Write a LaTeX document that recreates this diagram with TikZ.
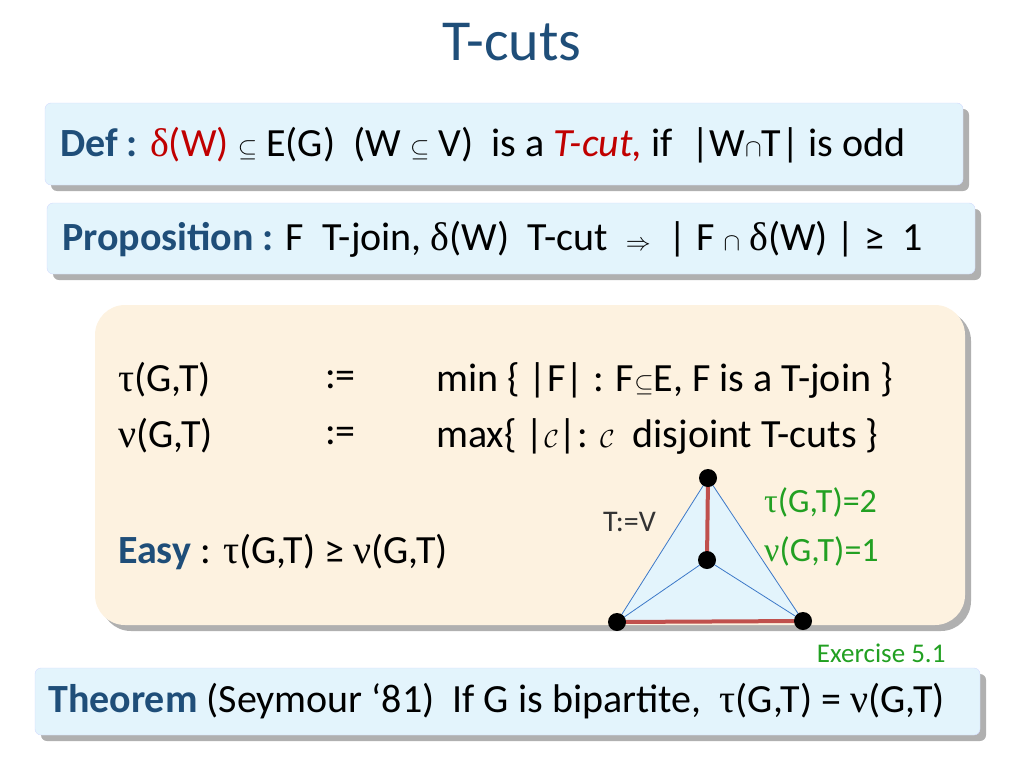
\documentclass[tikz,border=0pt]{standalone}
\usepackage{fontspec}
\setmainfont{Carlito}
\newfontfamily\gr{Liberation Serif}
\definecolor{tblue}{HTML}{1F4E79}
\definecolor{boxb}{HTML}{E3F4FC}
\definecolor{boxy}{HTML}{FDF2E0}
\definecolor{shad}{HTML}{B0B0B0}
\definecolor{dred}{HTML}{C00000}
\definecolor{grn}{HTML}{22A022}
\definecolor{edgeb}{HTML}{3C78C8}
\definecolor{redl}{HTML}{C0504D}
\newcommand{\dd}{{\gr δ}}
\newcommand{\ttau}{{\gr τ}}
\newcommand{\nnu}{{\gr ν}}
\tikzset{bbox/.style={fill=boxb,rounded corners=6pt,draw=boxb!80!blue!60},
 tx/.style={anchor=west,font=\fontsize{40}{44}\selectfont,inner sep=0},
 dot/.style={circle,fill=black,inner sep=0,minimum size=18pt}}
\begin{document}
\begin{tikzpicture}[x=1pt,y=-1pt]
\useasboundingbox (0,0) rectangle (1024,768);
\node[font=\fontsize{58}{62}\selectfont,text=tblue] (title) at (512,42) {T-cuts};
% def box
\fill[shad,rounded corners=6pt] (51,109) rectangle (969,191);
\draw[bbox] (45,103) rectangle (963,185);
\node[tx] (def) at (60,145) {\textbf{\color{tblue}Def :} {\color{dred}\dd(W)} $\subseteq$ E(G)\ \ (W $\subseteq$ V)\ \ is a \textcolor{dred}{\textit{T-cut,}} if\ \ |W$\cap$T| is odd};
% prop box
\fill[shad,rounded corners=6pt] (53,209) rectangle (981,280);
\draw[bbox] (47,203) rectangle (975,274);
\node[tx] (prop) at (62,239) {\textbf{\color{tblue}Proposition :} F\ \ T-join, \dd(W)\ \ T-cut\ \ $\Rightarrow$\ \ | F $\cap$ \dd(W) | ≥\ \ 1};
% yellow box
\fill[shad,rounded corners=30pt] (101,311) rectangle (971,631);
\fill[boxy,rounded corners=30pt] (95,305) rectangle (965,625);
\node[tx] (t1) at (118,380) {\ttau(G,T)};
\node[tx] (a1) at (325,380) {:=};
\node[tx] (m1) at (436,380) {min \{ |F| : F$\subseteq$E, F is a T-join \}};
\node[tx] (t2) at (118,436) {\nnu(G,T)};
\node[tx] (a2) at (325,436) {:=};
\node[tx] (m2) at (436,436) {max\{ |$\mathcal{C}$|: $\mathcal{C}$\ \ disjoint T-cuts \}};
\node[tx] (easy) at (118,552) {\textbf{\color{tblue}Easy} : \ttau(G,T) ≥ \nnu(G,T)};
% triangle
\coordinate (A) at (708,478);
\coordinate (B) at (617,622);
\coordinate (C) at (803,621);
\coordinate (D) at (707,560);
\fill[boxb] (A)--(B)--(C)--cycle;
\draw[edgeb,thick] (A)--(B)--(C)--cycle (B)--(D)--(C);
\draw[redl,line width=4pt] (A)--(D) (B)--(C);
\foreach \p in {A,B,C,D} \node[dot] (n\p) at (\p) {};
\node[tx,font=\fontsize{30}{34}\selectfont,text=black!80] (tv) at (603,522) {T:=V};
\node[tx,font=\fontsize{34}{38}\selectfont,text=grn] (tau) at (764,502) {\ttau(G,T)=2};
\node[tx,font=\fontsize{34}{38}\selectfont,text=grn] (nuv) at (764,551) {\nnu(G,T)=1};
\node[anchor=east,font=\fontsize{27}{30}\selectfont,text=grn] (ex) at (949,653) {Exercise 5.1};
% theorem
\fill[shad,rounded corners=6pt] (41,674) rectangle (986,741);
\draw[bbox] (35,668) rectangle (980,735);
\node[tx] (thm) at (48,701) {\textbf{\color{tblue}Theorem} (Seymour ‘81)\ \ If G is bipartite,\ \ \ttau(G,T) = \nnu(G,T)};
\end{tikzpicture}
\end{document}
